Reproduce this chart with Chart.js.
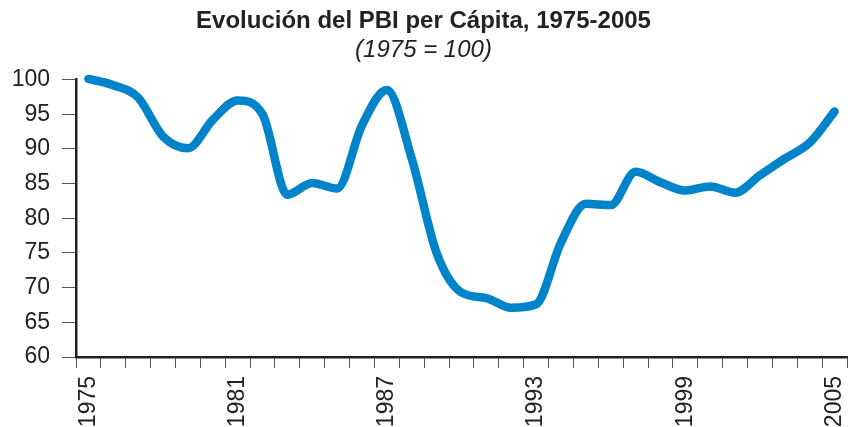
<!DOCTYPE html>
<html>
<head>
<meta charset="utf-8">
<script src="https://cdn.jsdelivr.net/npm/chart.js@4/dist/chart.umd.min.js"></script>
<style>
    html, body { margin:0; padding:0; background:#fff; }
    #box { width:848px; height:427px; }
</style>
</head>
<body>
<div id="box"><canvas id="line_chart_pbi"></canvas></div>
<script>
var arYears = ["1975","1976","1977","1978","1979","1980","1981","1982","1983","1984","1985","1986","1987","1988","1989","1990",
    "1991","1992","1993","1994","1995","1996","1997","1998","1999","2000","2001","2002","2003","2004","2005"];
var dataPbi = [100.1, 99.2, 97.4, 91.8, 90.1, 94.2, 97.0, 95.0, 83.4, 85.1, 84.3, 93.4, 98.5, 88.6, 75.0, 69.3,
    68.5, 67.1, 67.6, 76.5, 82.1, 81.9, 86.7, 85.2, 84.0, 84.6, 83.7, 86.2, 88.6, 90.9, 95.4];
var showYears = ["1975","1981","1987","1993","1999","2005"];
var yTicks = [60, 65, 70, 75, 80, 85, 90, 95, 100];

var chartPbi;
var fontName = "'Liberation Sans', Arial, sans-serif";

function getChartPbi(){
    try{
        chartPbi.destroy();
    }catch(error){

    }
    var config = {
        type: 'line',
        data: {
            labels: arYears,
            datasets: [{
                label: "PBI per Cápita",
                data: dataPbi,
                borderColor: 'rgb(0, 132, 201)',
                borderWidth: 8.5,
                borderCapStyle: 'round',
                borderJoinStyle: 'round',
                pointRadius: 0,
                cubicInterpolationMode: 'monotone',
                clip: false
            }]
        },
        options: {
            responsive: true,
            maintainAspectRatio: false,
            animation: false,
            layout: { padding: { left: 0, right: 1, top: 0, bottom: 0 } },
            plugins: {
                legend: { display: false },
                tooltip: { enabled: false },
                title: {
                    display: true,
                    text: 'Evolución del PBI per Cápita, 1975-2005',
                    color: '#222',
                    font: { family: fontName, size: 24, weight: 'bold' },
                    padding: { top: 7, bottom: 0 }
                },
                subtitle: {
                    display: true,
                    text: '(1975 = 100)',
                    color: '#222',
                    font: { family: fontName, size: 24, style: 'italic', weight: 'normal' },
                    padding: { top: 0, bottom: 15 }
                }
            },
            scales: {
                x: {
                    offset: true,
                    afterFit: function(scale){
                        scale.height = 70;
                        scale.paddingLeft = 0;
                        scale.paddingRight = 0;
                    },
                    grid: { display: true, offset: true, drawOnChartArea: false, drawTicks: true, tickLength: 11, color: '#555', lineWidth: 1 },
                    border: { display: true, color: '#222', width: 2.5 },
                    ticks: {
                        autoSkip: false,
                        minRotation: 90,
                        maxRotation: 90,
                        padding: 8,
                        color: '#222',
                        font: { family: fontName, size: 23 },
                        callback: function(val, index){
                            var lbl = arYears[index];
                            return showYears.indexOf(lbl) >= 0 ? lbl : '';
                        }
                    }
                },
                y: {
                    min: 60,
                    max: 100,
                    afterFit: function(scale){ scale.width = 76; },
                    afterBuildTicks: function(scale){
                        scale.ticks = yTicks.map(function(v){ return { value: v }; });
                    },
                    grid: { display: true, drawOnChartArea: false, drawTicks: true, tickLength: 14, color: '#555', lineWidth: 1 },
                    border: { display: true, color: '#222', width: 2.5 },
                    ticks: {
                        padding: 12,
                        color: '#222',
                        font: { family: fontName, size: 23 }
                    }
                }
            }
        }
    };
    chartPbi = new Chart(document.getElementById("line_chart_pbi").getContext("2d"), config);
}

getChartPbi();
</script>
</body>
</html>
